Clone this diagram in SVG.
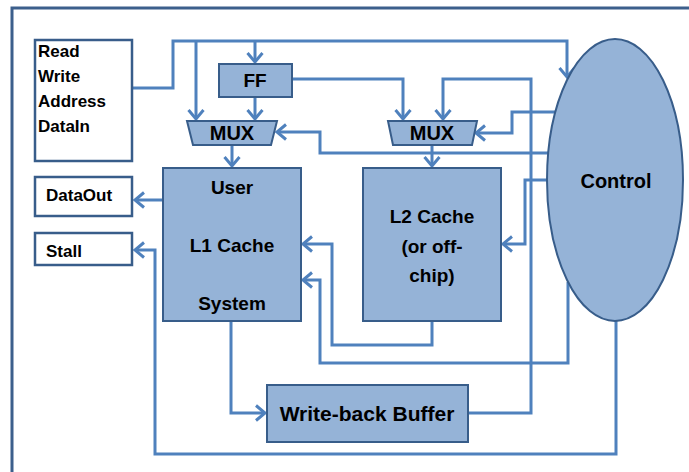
<svg xmlns="http://www.w3.org/2000/svg" width="689" height="472" viewBox="0 0 689 472">
<style>
.frame{fill:none;stroke:#3c5f8c;stroke-width:3}
.wbox{fill:#ffffff;stroke:#385d8a;stroke-width:2.5}
.bbox{fill:#95b3d7;stroke:#385d8a;stroke-width:2}
.w{fill:none;stroke:#4f81bd;stroke-width:3;stroke-linejoin:miter}
.a{marker-end:url(#arr)}
text{font-family:"Liberation Sans",Arial,sans-serif;font-weight:bold;fill:#000}
.s{font-size:17px}
.m{font-size:19px;text-anchor:middle}
.x{font-size:20px;text-anchor:middle}
.c{font-size:20px;text-anchor:middle}
.b{font-size:21px;text-anchor:middle}
</style>
<defs>
<marker id="arr" markerUnits="userSpaceOnUse" markerWidth="24" markerHeight="24" viewBox="-12 -12 24 24" refX="0" refY="0" orient="auto" overflow="visible">
<path d="M-9,-7.5 L0,0 L-9,7.5" fill="none" stroke="#4f81bd" stroke-width="3"/>
</marker>
</defs>
<rect x="0" y="0" width="689" height="472" fill="#ffffff"/>
<path class="frame" d="M12,472 V8 H689"/>
<g id="connectors">
<path class="w a" d="M132,88 H173 V41 H567 V77"/>
<path class="w a" d="M196,41 V119"/>
<path class="w a" d="M255,41 V62"/>
<path class="w a" d="M255,97 V119"/>
<path class="w a" d="M292,79 H403 V119"/>
<path class="w a" d="M465,413 H531 V79 H443 V119"/>
<path class="w a" d="M548,153 H320 V132 H277"/>
<path class="w a" d="M555,112 H512 V133 H476"/>
<path class="w a" d="M232,145 V166"/>
<path class="w a" d="M432,145 V166"/>
<path class="w a" d="M548,180 H525 V244 H503"/>
<path class="w a" d="M432,321 V345 H332 V244 H303"/>
<path class="w a" d="M568,282 V363 H320 V280 H303"/>
<path class="w a" d="M163,200 H135"/>
<path class="w a" d="M616,321 V454 H155 V250 H135"/>
<path class="w a" d="M231,321 V413 H265"/>
</g>
<g id="inputs">
<rect class="wbox" x="35" y="40" width="97" height="121"/>
<text class="s" x="38" y="57">Read</text>
<text class="s" x="38" y="82">Write</text>
<text class="s" x="38" y="107">Address</text>
<text class="s" x="38" y="132">DataIn</text>
</g>
<g id="dataout">
<rect class="wbox" x="35" y="177" width="97" height="39"/>
<text class="s" x="46" y="201">DataOut</text>
</g>
<g id="stall">
<rect class="wbox" x="35" y="233" width="97" height="32"/>
<text class="s" x="46" y="257">Stall</text>
</g>
<g id="ff">
<rect class="bbox" x="219" y="64" width="73" height="33"/>
<text class="m" x="255" y="87">FF</text>
</g>
<g id="mux1">
<polygon class="bbox" points="187,121 277,121 271,145 193,145"/>
<text class="x" x="232" y="140">MUX</text>
</g>
<g id="mux2">
<polygon class="bbox" points="388,121 477,121 472,145 393,145"/>
<text class="x" x="432" y="140">MUX</text>
</g>
<g id="l1">
<rect class="bbox" x="163" y="168" width="138" height="153"/>
<text class="m" x="232" y="194">User</text>
<text class="m" x="232" y="252">L1 Cache</text>
<text class="m" x="232" y="310">System</text>
</g>
<g id="l2">
<rect class="bbox" x="363" y="168" width="138" height="153"/>
<text class="m" x="432" y="223">L2 Cache</text>
<text class="m" x="432" y="253">(or off-</text>
<text class="m" x="432" y="282">chip)</text>
</g>
<g id="wb">
<rect class="bbox" x="267" y="385" width="201" height="57"/>
<text class="b" x="367" y="421">Write-back Buffer</text>
</g>
<g id="control">
<ellipse class="bbox" cx="615" cy="180" rx="68" ry="141"/>
<text class="c" x="616" y="188">Control</text>
</g>
</svg>
